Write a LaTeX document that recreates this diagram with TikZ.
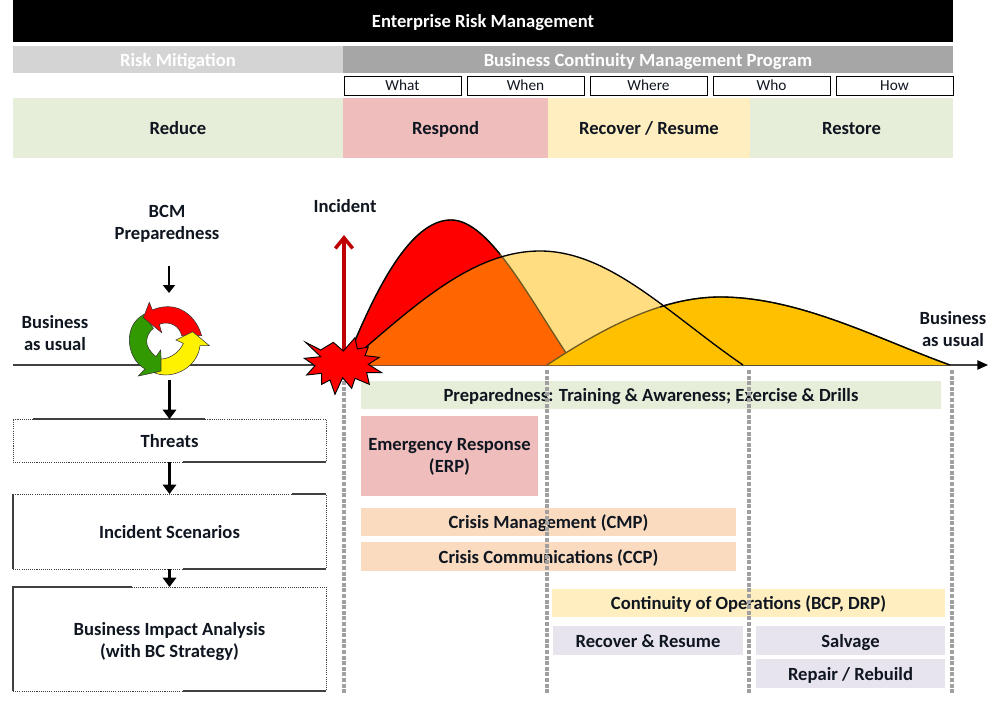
\documentclass[tikz,border=0pt]{standalone}
\usepackage{fontspec}
\setmainfont{Carlito}
\usetikzlibrary{arrows.meta}
\definecolor{txt}{HTML}{0F1620}
\definecolor{lgreen}{HTML}{E6EDD8}
\definecolor{lred}{HTML}{F0BDBD}
\definecolor{lyellow}{HTML}{FFEFC0}
\definecolor{lorange}{HTML}{FADBC0}
\definecolor{llilac}{HTML}{E7E4EE}
\definecolor{axisgray}{HTML}{404040}
\definecolor{dashgray}{HTML}{A0A0A0}
\definecolor{softc}{HTML}{6E5A22}
\definecolor{cgreen}{HTML}{339900}
\newcommand\pxbox[7]{%
  \pgfmathsetmacro\pxw{(#4-#2)*.75}\pgfmathsetmacro\pxh{(#5-#3)*.75}%
  \node[#6,minimum width=\pxw pt,minimum height=\pxh pt] (#1) at ({(#2+#4)/2},{(#3+#5)/2}) {#7};}
\newcommand\curveA{(345,365) .. controls (375,290) and (410,220) .. (451,220) .. controls (490,220) and (530,300) .. (574,365)}
\newcommand\curveB{(345,365) .. controls (410,310) and (470,251) .. (540,251) .. controls (610,251) and (670,315) .. (743,365)}
\newcommand\curveC{(547,365) .. controls (600,330) and (660,297) .. (720,297) .. controls (800,297) and (880,340) .. (950,365)}
\tikzset{
  base/.style={inner sep=0pt,outer sep=0pt,align=center,text=txt,font=\bfseries\fontsize{13.95pt}{16.5pt}\selectfont,execute at begin node={\rule{0pt}{14pt}},execute at end node={\rule[-3.6pt]{0pt}{3.6pt}}},
  band/.style={base,fill=#1},
  small/.style={inner sep=0pt,outer sep=0pt,draw=black,line width=.75pt,fill=white,text=txt,font=\fontsize{11.5pt}{13pt}\selectfont,execute at begin node={\rule{0pt}{10pt}},execute at end node={\rule[-2pt]{0pt}{2pt}}},
  plain/.style={base},
  frame/.style={base,draw=axisgray,line width=.7pt,dash pattern=on .8pt off .8pt},
  solidseg/.style={draw=axisgray,line width=1pt},
  flow/.style={draw=black,line width=2.9pt,-{Triangle[length=7pt,width=10pt]}},
  thinflow/.style={draw=black,line width=1.7pt,-{Triangle[length=6pt,width=9pt]}},
  guidestroke/.style={color=dashgray,line width=2.3pt,dash pattern=on 3pt off 1.2pt},
  curveline/.style={draw=black,line width=1.0pt},
  softline/.style={draw=softc,line width=1.0pt},
  whirl/.style={draw=black!80,line width=.4pt},
}
\begin{document}
\begin{tikzpicture}[x=.75pt,y=-.75pt]
\useasboundingbox (0,0) rectangle (1003,725);
\fill[white] (0,0) rectangle (1003,725);
% header
\pxbox{erm}{13}{0}{953}{42}{band=black,text=white}{Enterprise Risk Management}
\pxbox{rm}{13}{46}{343}{73}{band={black!17},text=white}{Risk Mitigation}
\pxbox{bcmp}{343}{46}{953}{73}{band={black!35},text=white}{Business Continuity Management Program}
\pxbox{what}{344}{76}{461}{95}{small}{What}
\pxbox{when}{467}{76}{584}{95}{small}{When}
\pxbox{where}{590}{76}{707}{95}{small}{Where}
\pxbox{who}{713}{76}{830}{95}{small}{Who}
\pxbox{how}{836}{76}{953}{95}{small}{How}
\pxbox{reduce}{13}{98}{343}{158}{band=lgreen}{Reduce}
\pxbox{respond}{343}{98}{548}{158}{band=lred}{Respond}
\pxbox{recover}{548}{98}{750}{158}{band=lyellow}{Recover / Resume}
\pxbox{restore}{750}{98}{953}{158}{band=lgreen}{Restore}
% labels
\node[plain] (prep) at (167,224.5) {BCM\\Preparedness};
\node[plain] (inc) at (345,205.5) {Incident};
\node[plain] (bau1) at (55,335) {Business\\as usual};
\node[plain] (bau2) at (953,331) {Business\\as usual};
% axis
\coordinate (axL) at (13,365);
\coordinate (axR) at (988,365);
\draw[draw=axisgray,line width=1pt,-{Triangle[length=8pt,width=7pt,color=black]}] (axL) -- (axR);
% curves
\fill[red] \curveA -- cycle;
\fill[color={rgb,255:red,255;green,221;blue,128}] \curveB -- cycle;
\begin{scope}
  \clip \curveA -- cycle;
  \fill[color={rgb,255:red,255;green,102;blue,0}] \curveB -- cycle;
\end{scope}
\draw[softline] \curveA;
\begin{scope}
  \clip (340,200) rectangle (500,370);
  \draw[curveline] \curveA;
\end{scope}
\fill[color={rgb,255:red,255;green,192;blue,0}] \curveC -- cycle;
\draw[softline] \curveC;
\begin{scope}
  \clip (660,280) rectangle (955,370);
  \draw[curveline] \curveC;
\end{scope}
\draw[curveline] \curveB;
% bars
\pxbox{bar1}{361}{381}{941}{409}{band=lgreen}{Preparedness: Training \& Awareness; Exercise \& Drills}
\pxbox{bar2}{361}{416}{538}{496}{band=lred}{}
\node[plain] (bar2t) at (449.5,458) {Emergency Response\\(ERP)};
\pxbox{bar3}{361}{508}{736}{536}{band=lorange}{Crisis Management (CMP)}
\pxbox{bar4}{361}{542}{736}{571}{band=lorange}{Crisis Communications (CCP)}
\pxbox{bar5}{552}{589}{945}{617}{band=lyellow}{Continuity of Operations (BCP, DRP)}
\pxbox{bar6}{553}{626}{743}{655}{band=llilac}{Recover \& Resume}
\pxbox{bar7}{756}{626}{945}{655}{band=llilac}{Salvage}
\pxbox{bar8}{756}{659}{945}{688}{band=llilac}{Repair / Rebuild}
% guides
\coordinate (gat) at (344,370); \coordinate (gab) at (344,694);
\coordinate (gbt) at (547,370); \coordinate (gbb) at (547,694);
\coordinate (gct) at (749,370); \coordinate (gcb) at (749,694);
\coordinate (gdt) at (952,370); \coordinate (gdb) at (952,694);
\draw[guidestroke] (gat) -- (gab);
\draw[guidestroke] (gbt) -- (gbb);
\draw[guidestroke] (gct) -- (gcb);
\draw[guidestroke] (gdt) -- (gdb);
% incident arrow and burst
\coordinate (burst) at (344,365);
\coordinate (inctip) at (344,235);
\draw[draw=red!75!black,line width=2.6pt,-{Straight Barb[length=8pt,width=13pt,line width=2.6pt]}] (burst) -- (inctip);
\begin{scope}[shift={(300,325)},scale=1/3]
\draw[draw=black,line width=.7pt,fill=red,line join=miter] (17,52)--(62,75)--(100,52)--(130,78)--(165,38)--(172,72)--(205,66)--(195,92)--(238,97)--(205,118)--(245,143)--(200,143)--(208,178)--(165,160)--(155,190)--(128,158)--(105,208)--(90,165)--(65,178)--(65,145)--(20,150)--(45,122)--(13,100)--(62,95)--cycle;
\end{scope}
% cycle
\begin{scope}[shift={(120,295)},scale=1/3]
\draw[whirl,fill=cgreen] (72,58) .. controls (40,75) and (28,105) .. (28,135) .. controls (28,170) and (45,205) .. (75,222) -- (55,243) -- (125,228) -- (122,165) -- (108,185) .. controls (90,170) and (80,155) .. (80,140) .. controls (80,125) and (87,110) .. (100,100) -- cycle;
\draw[whirl,fill=red] (88,22) -- (70,68) -- (125,113) -- (118,88) .. controls (150,75) and (180,95) .. (185,122) -- (213,122) -- (245,122) .. controls (230,70) and (190,35) .. (145,35) .. controls (128,35) and (112,38) .. (97,45) -- cycle;
\draw[whirl,fill=yellow] (268,152) -- (218,110) -- (168,135) -- (190,145) .. controls (180,170) and (150,192) .. (123,192) -- (123,228) -- (103,233) .. controls (115,238) and (125,240) .. (135,240) .. controls (190,240) and (235,200) .. (240,152) -- cycle;
\end{scope}
\coordinate (cyc) at (169.5,380);
\coordinate (prepA) at (169,266);
\coordinate (prepB) at (169,293);
\draw[thinflow] (prepA) -- (prepB);
% left boxes
\pxbox{threats}{13}{419}{326}{462}{frame}{Threats}
\pxbox{scen}{13}{494}{326}{569}{frame}{Incident Scenarios}
\pxbox{bia}{13}{587}{326}{691}{frame}{}
\node[plain] (biat) at (169.5,642) {Business Impact Analysis\\(with BC Strategy)};
\draw[solidseg] (33,419) -- (205,419);
\draw[solidseg] (183,462) -- (326,462);
\draw[solidseg] (13,569) -- (13,494) (292,494) -- (326,494);
\draw[solidseg] (183,569) -- (326,569);
\draw[solidseg] (13,691) -- (13,587) -- (132,587);
\draw[solidseg] (183,691) -- (326,691);
\draw[flow] (cyc) -- (threats.north -| cyc);
\draw[flow] (threats.south -| cyc) -- (scen.north -| cyc);
\draw[flow] (scen.south -| cyc) -- (bia.north -| cyc);
\end{tikzpicture}
\end{document}
